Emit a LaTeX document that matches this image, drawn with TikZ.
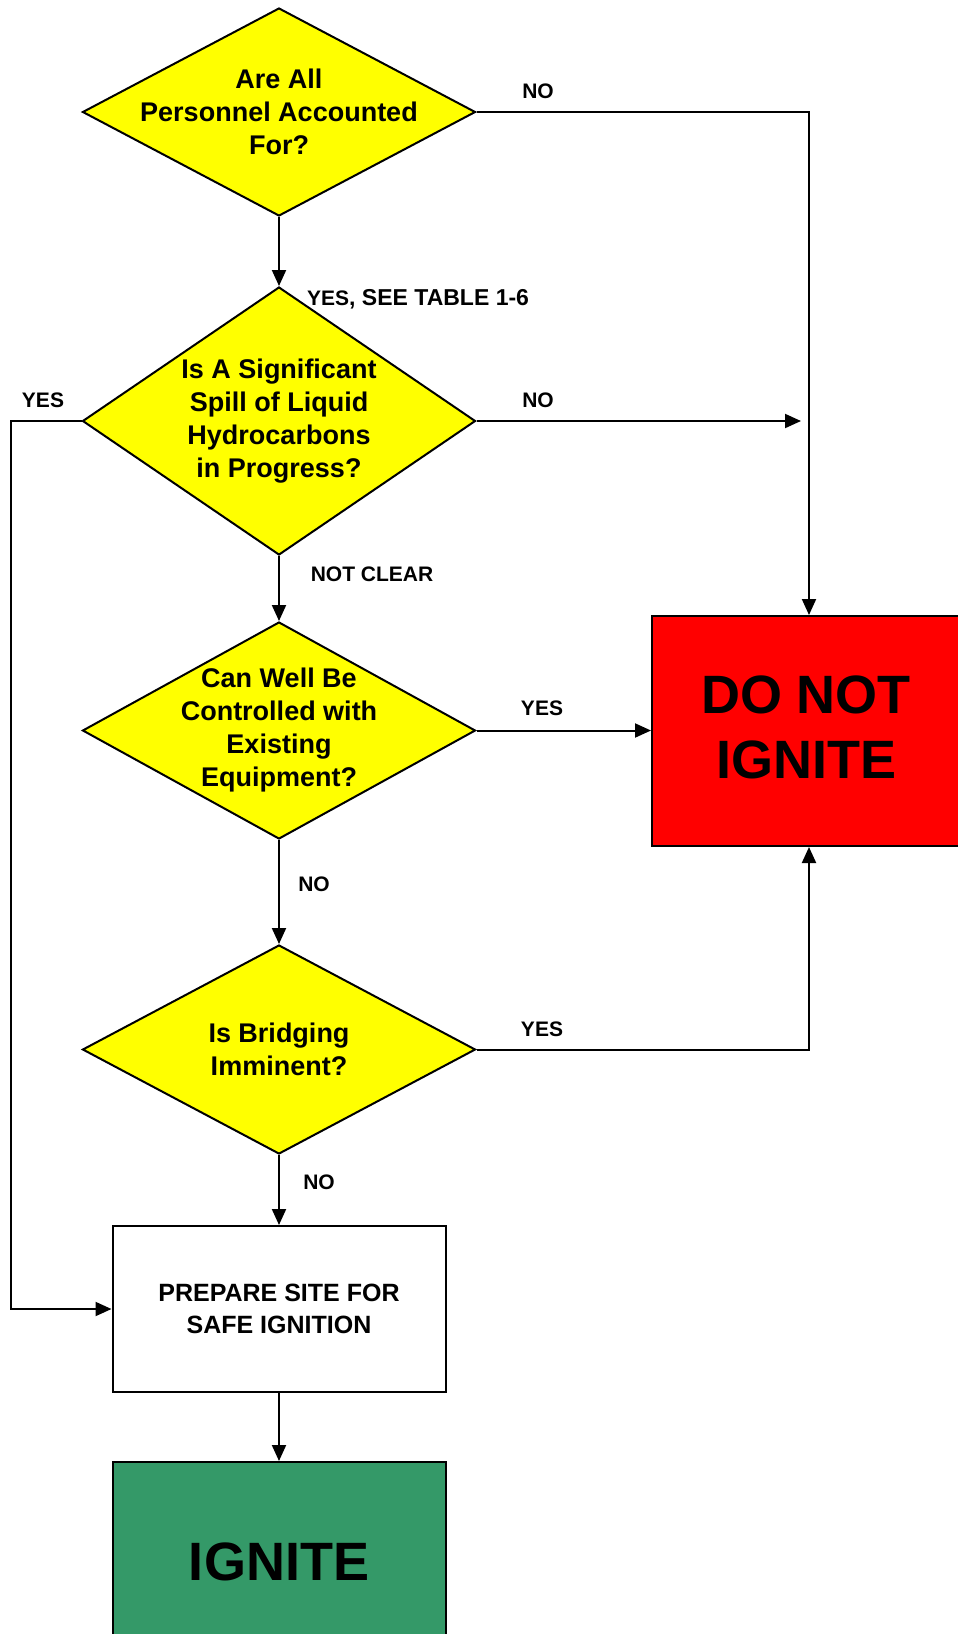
\documentclass[tikz,border=0pt]{standalone}
\usepackage{fontspec}
\setmainfont{Liberation Sans}
\usetikzlibrary{shapes.geometric,arrows.meta}
\definecolor{dyellow}{RGB}{255,255,0}
\definecolor{dred}{RGB}{255,0,0}
\definecolor{dgreen}{RGB}{52,153,104}
\tikzset{
  decision/.style={shape=diamond, draw=black, line width=2pt, fill=dyellow, inner sep=0pt, minimum width=393pt},
  dtext/.style={align=center, font=\bfseries\fontsize{27}{33}\selectfont, inner sep=0pt},
  bigtext/.style={align=center, font=\bfseries\fontsize{54}{65}\selectfont, inner sep=0pt},
  procbox/.style={rectangle, draw=black, line width=2pt, align=center, inner sep=0pt},
  lbl/.style={font=\bfseries\fontsize{21}{25}\selectfont, inner sep=0pt},
  conn/.style={line width=2pt, -{Triangle[length=16pt,width=14pt]}},
}
\begin{document}
\begin{tikzpicture}[x=1pt,y=-1pt]
\useasboundingbox (0,0) rectangle (958,1634);
\clip (0,0) rectangle (958,1634);
\fill[white] (0,0) rectangle (958,1634);

% decisions
\node[decision, minimum height=208pt] (d1) at (279,112) {};
\node[dtext] (t1) at (d1) {Are All\\Personnel Accounted\\For?};
\node[decision, minimum height=268pt] (d2) at (279,421) {};
\node[dtext] (t2) at (d2) {Is A Significant\\Spill of Liquid\\Hydrocarbons\\in Progress?};
\node[decision, minimum height=217pt] (d3) at (279,730.5) {};
\node[dtext] (t3) at (d3) {Can Well Be\\Controlled with\\Existing\\Equipment?};
\node[decision, minimum height=209pt] (d4) at (279,1049.5) {};
\node[dtext] (t4) at (d4) {Is Bridging\\Imminent?};

% boxes
\node[procbox, fill=white, minimum width=333pt, minimum height=166pt,
      font=\bfseries\fontsize{25}{32}\selectfont] (prep) at (279,1309) {PREPARE SITE FOR\\SAFE IGNITION};
\node[procbox, fill=dgreen, minimum width=333pt, minimum height=200pt] (ign) at (279,1562) {};
\node[bigtext] (tign) at (279,1562) {IGNITE};
\node[procbox, fill=dred, minimum width=308pt, minimum height=230pt] (dni) at (806,731) {};
\node[bigtext] (tdni) at (806,727) {DO NOT\\IGNITE};

% helper coordinates
\coordinate (rc) at (809,0);
\coordinate (lc) at (11,0);
\coordinate (d2noend) at (801,421);

% connectors
\draw[conn] (d1.south) -- (d2.north);
\draw[conn] (d2.south) -- (d3.north);
\draw[conn] (d3.south) -- (d4.north);
\draw[conn] (d4.south) -- (prep.north);
\draw[conn] (prep.south) -- (ign.north);
\draw[conn] (d1.east) -| (rc |- dni.north);
\draw[conn] (d2.east) -- (d2noend);
\draw[conn] (d3.east) -- (d3.east -| dni.west);
\draw[conn] (d4.east) -| (rc |- dni.south);
\draw[conn] (d2.west) -- (d2.west -| lc) |- (prep.west);

% labels
\node[lbl] (l1) at (538,91) {NO};
\node[lbl, anchor=west] (l2) at (307,299) {YES\fontsize{23}{25}\selectfont, SEE TABLE 1-6};
\node[lbl] (l3) at (43,400) {YES};
\node[lbl] (l4) at (538,400) {NO};
\node[lbl] (l5) at (372,574) {NOT CLEAR};
\node[lbl] (l6) at (542,708) {YES};
\node[lbl] (l7) at (314,884) {NO};
\node[lbl] (l8) at (542,1029) {YES};
\node[lbl] (l9) at (319,1182) {NO};
\end{tikzpicture}
\end{document}
